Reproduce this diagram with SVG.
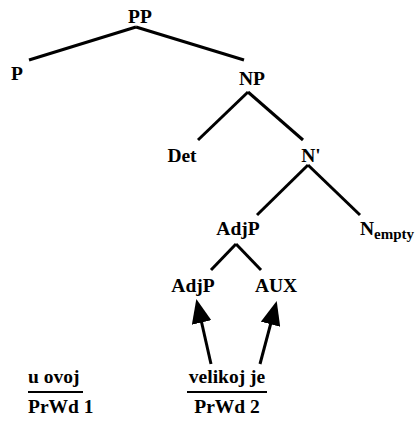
<svg xmlns="http://www.w3.org/2000/svg" width="419" height="424" viewBox="0 0 419 424">
<style>
text{font-family:"Liberation Serif","Times New Roman",serif;font-weight:bold;font-size:19.5px;fill:#000}
.e{stroke:#000;stroke-width:3;fill:none}
.u{stroke:#000;stroke-width:1.8}
</style>
<defs>
<marker id="ah" viewBox="0 0 24 20" refX="1" refY="10" markerWidth="24" markerHeight="20" markerUnits="userSpaceOnUse" orient="auto">
<path d="M0,0 L24,10 L0,20 z" fill="#000"/>
</marker>
</defs>
<rect width="419" height="424" fill="#fff"/>
<g id="connectors">
<line class="e" x1="136" y1="27" x2="29" y2="60"/>
<line class="e" x1="136" y1="27" x2="244" y2="60"/>
<line class="e" x1="248" y1="92" x2="198" y2="140"/>
<line class="e" x1="248" y1="92" x2="303" y2="140"/>
<line class="e" x1="308" y1="165" x2="257" y2="215"/>
<line class="e" x1="308" y1="165" x2="360" y2="215"/>
<line class="e" x1="236" y1="244" x2="211" y2="270"/>
<line class="e" x1="236" y1="244" x2="261" y2="270"/>
<line class="e" x1="211" y1="364" x2="201.4" y2="321.5" marker-end="url(#ah)"/>
<line class="e" x1="260" y1="364" x2="270.8" y2="323.3" marker-end="url(#ah)"/>
</g>
<g id="PP"><text x="140" y="23" text-anchor="middle">PP</text></g>
<g id="P"><text x="17" y="80" text-anchor="middle">P</text></g>
<g id="NP"><text x="252" y="85" text-anchor="middle">NP</text></g>
<g id="Det"><text x="182" y="162" text-anchor="middle">Det</text></g>
<g id="Nbar"><text x="311" y="162" text-anchor="middle">N'</text></g>
<g id="AdjP1"><text x="238" y="235" text-anchor="middle">AdjP</text></g>
<g id="Nempty"><text x="360" y="235">N<tspan font-size="15" dy="4">empty</tspan></text></g>
<g id="AdjP2"><text x="193" y="292" text-anchor="middle">AdjP</text></g>
<g id="AUX"><text x="276" y="292" text-anchor="middle">AUX</text></g>
<g id="uovoj"><text x="28" y="383">u ovoj</text><line class="u" x1="28" y1="392" x2="83" y2="392"/></g>
<g id="PrWd1"><text x="28" y="413">PrWd 1</text></g>
<g id="velikoj"><text x="227" y="383" text-anchor="middle">velikoj je</text><line class="u" x1="187" y1="392" x2="267" y2="392"/></g>
<g id="PrWd2"><text x="227" y="413" text-anchor="middle">PrWd 2</text></g>
</svg>
